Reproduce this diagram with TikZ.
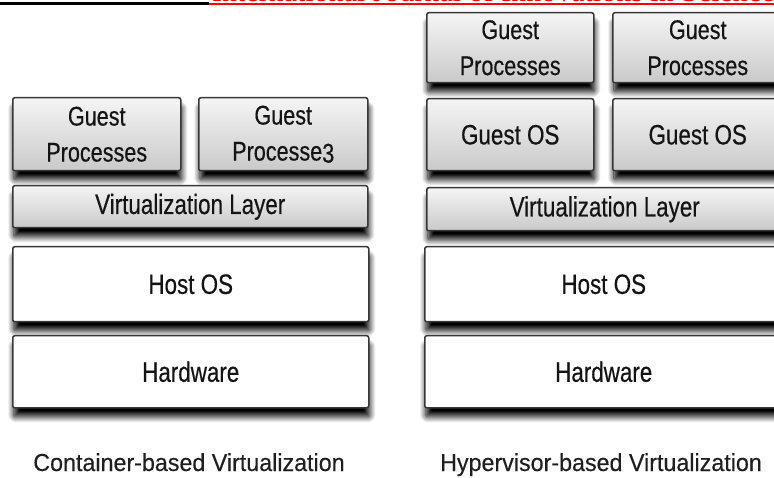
\documentclass[tikz,border=0pt]{standalone}
\usepackage{fontspec}
\setmainfont[FakeStretch=0.8, FakeBold=0.4]{Liberation Sans}
\newfontfamily\capfont[FakeStretch=0.95, FakeBold=0.3]{Liberation Sans}
\newfontfamily\headfont{Liberation Serif}
\usetikzlibrary{shadows.blur}

\tikzset{
  layer/.style={draw=black!78, line width=1.5pt, rounded corners=2pt,
    inner sep=0pt, anchor=north west, align=center, text=black!92,
    font=\fontsize{28}{35}\selectfont,
    blur shadow={shadow xshift=1pt, shadow yshift=-9pt,
      shadow blur radius=6pt, shadow blur steps=12, shadow opacity=100}},
  greybox/.style={layer, top color=gray!8, bottom color=gray!42},
  whitebox/.style={layer, fill=white},
  twoline/.style={font=\fontsize{27}{36}\selectfont},
  caption/.style={anchor=base, inner sep=0pt, text=black!88,
    font=\capfont\fontsize{24.5}{26}\selectfont},
}

\begin{document}
\begin{tikzpicture}[x=1pt, y=-1pt]
  \useasboundingbox (0,0) rectangle (774,478);
  \clip (0,0) rectangle (774,478);

  % running header of the page
  \fill[black] (0,2.5) rectangle (209,5.5);
  \fill[red] (209,3.5) rectangle (774,5.5);
  \node[anchor=base west, inner sep=0pt, text=red,
        font=\headfont\fontsize{30}{32}\selectfont] (head) at (212,2)
    {International Journal of Innovations in Science \& Technology};

  % container-based stack
  \node[greybox, twoline, minimum width=168pt, minimum height=73pt] (lgp1) at (12,97) {Guest\\Processes};
  \node[greybox, twoline, minimum width=169pt, minimum height=73pt] (lgp2) at (198,97) {Guest\\Processe\raisebox{-2pt}{3}};
  \node[greybox, minimum width=355pt, minimum height=42pt] (lvl) at (12,185) {Virtualization Layer};
  \node[whitebox, minimum width=356pt, minimum height=75pt] (lhost) at (12,246) {Host OS};
  \node[whitebox, minimum width=356pt, minimum height=72pt] (lhw) at (12,335) {Hardware};
  \node[caption] (lcap) at (189,471) {Container-based Virtualization};

  % hypervisor-based stack
  \node[greybox, twoline, minimum width=167pt, minimum height=70pt] (rgp1) at (426,12) {Guest\\Processes};
  \node[greybox, twoline, minimum width=170pt, minimum height=70pt] (rgp2) at (612,12) {Guest\\Processes};
  \node[greybox, minimum width=167pt, minimum height=72pt] (ros1) at (426,98) {Guest OS};
  \node[greybox, minimum width=170pt, minimum height=72pt] (ros2) at (612,98) {Guest OS};
  \node[greybox, minimum width=356pt, minimum height=43pt] (rvl) at (426,187) {Virtualization Layer};
  \node[whitebox, minimum width=358pt, minimum height=75pt] (rhost) at (424,246) {Host OS};
  \node[whitebox, minimum width=358pt, minimum height=72pt] (rhw) at (424,335) {Hardware};
  \node[caption] (rcap) at (601,471) {Hypervisor-based Virtualization};
\end{tikzpicture}
\end{document}
